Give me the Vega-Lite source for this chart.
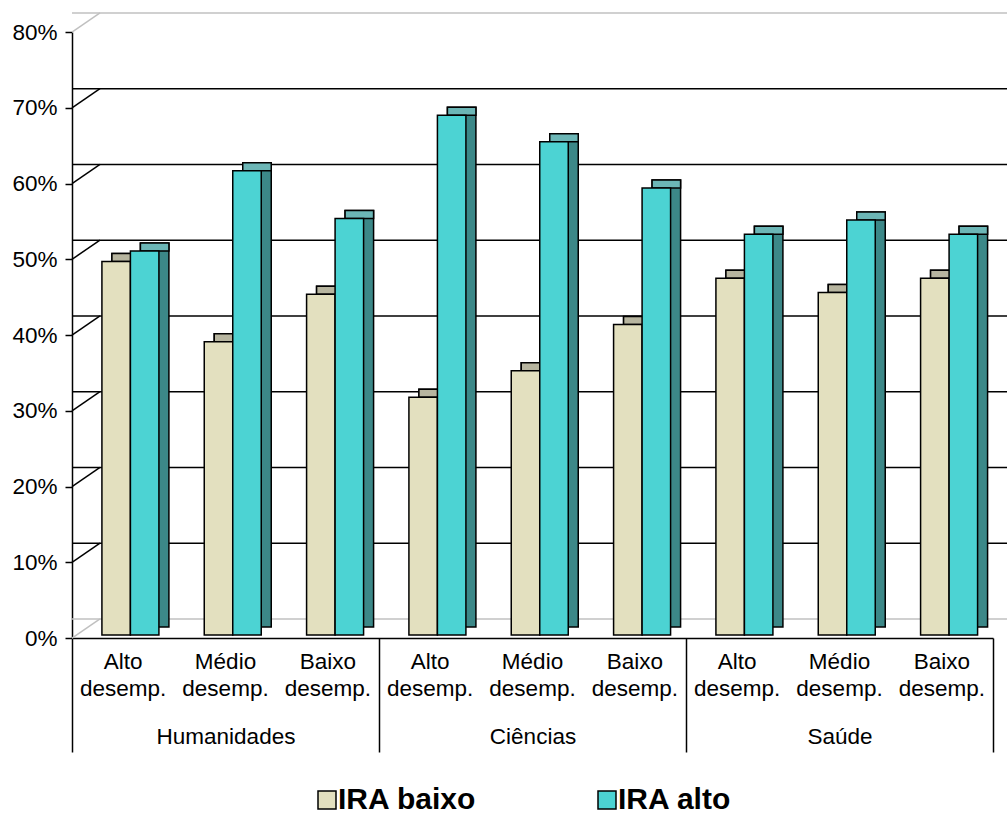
{
  "$schema": "https://vega.github.io/schema/vega-lite/v6.json",
  "autosize": {"type": "none"},
  "width": 921,
  "height": 606,
  "padding": {"left": 72, "top": 32, "right": 14, "bottom": 182},
  "background": "white",
  "datasets": {
    "bars": [
      {"grupo": "Humanidades", "cat": "Humanidades|Alto desemp.", "serie": "IRA baixo", "valor": 0.493},
      {"grupo": "Humanidades", "cat": "Humanidades|Alto desemp.", "serie": "IRA alto", "valor": 0.507},
      {"grupo": "Humanidades", "cat": "Humanidades|Médio desemp.", "serie": "IRA baixo", "valor": 0.387},
      {"grupo": "Humanidades", "cat": "Humanidades|Médio desemp.", "serie": "IRA alto", "valor": 0.613},
      {"grupo": "Humanidades", "cat": "Humanidades|Baixo desemp.", "serie": "IRA baixo", "valor": 0.450},
      {"grupo": "Humanidades", "cat": "Humanidades|Baixo desemp.", "serie": "IRA alto", "valor": 0.550},
      {"grupo": "Ciências", "cat": "Ciências|Alto desemp.", "serie": "IRA baixo", "valor": 0.314},
      {"grupo": "Ciências", "cat": "Ciências|Alto desemp.", "serie": "IRA alto", "valor": 0.686},
      {"grupo": "Ciências", "cat": "Ciências|Médio desemp.", "serie": "IRA baixo", "valor": 0.349},
      {"grupo": "Ciências", "cat": "Ciências|Médio desemp.", "serie": "IRA alto", "valor": 0.651},
      {"grupo": "Ciências", "cat": "Ciências|Baixo desemp.", "serie": "IRA baixo", "valor": 0.410},
      {"grupo": "Ciências", "cat": "Ciências|Baixo desemp.", "serie": "IRA alto", "valor": 0.590},
      {"grupo": "Saúde", "cat": "Saúde|Alto desemp.", "serie": "IRA baixo", "valor": 0.471},
      {"grupo": "Saúde", "cat": "Saúde|Alto desemp.", "serie": "IRA alto", "valor": 0.529},
      {"grupo": "Saúde", "cat": "Saúde|Médio desemp.", "serie": "IRA baixo", "valor": 0.452},
      {"grupo": "Saúde", "cat": "Saúde|Médio desemp.", "serie": "IRA alto", "valor": 0.548},
      {"grupo": "Saúde", "cat": "Saúde|Baixo desemp.", "serie": "IRA baixo", "valor": 0.471},
      {"grupo": "Saúde", "cat": "Saúde|Baixo desemp.", "serie": "IRA alto", "valor": 0.529}
    ],
    "grid": [
      {"v": 0}, {"v": 0.1}, {"v": 0.2}, {"v": 0.3}, {"v": 0.4},
      {"v": 0.5}, {"v": 0.6}, {"v": 0.7}, {"v": 0.8}
    ]
  },
  "config": {
    "font": "Liberation Sans",
    "view": {"stroke": null},
    "axis": {
      "labelColor": "black",
      "labelFont": "Liberation Sans",
      "labelFontSize": 22.5,
      "domainColor": "black",
      "tickColor": "black",
      "domainWidth": 1.5,
      "tickWidth": 1.5,
      "grid": false
    },
    "axisY": {"tickSize": 7, "labelPadding": 8},
    "legend": {
      "orient": "none",
      "legendX": 240,
      "legendY": 753,
      "direction": "horizontal",
      "symbolType": "square",
      "symbolSize": 324,
      "symbolStrokeColor": "black",
      "symbolStrokeWidth": 1.5,
      "labelFont": "Liberation Sans",
      "labelFontSize": 30,
      "labelFontWeight": "bold",
      "labelColor": "black",
      "labelOffset": -4,
      "labelLimit": 0,
      "columnPadding": 115,
      "padding": 0,
      "titlePadding": 0
    }
  },
  "layer": [
    {
      "layer": [
        {
          "data": {"name": "grid"},
          "mark": {"type": "rule", "xOffset": 28, "x2Offset": 40, "yOffset": -19, "strokeWidth": 1.5},
          "encoding": {
            "y": {"field": "v", "type": "quantitative", "scale": {"domain": [0, 0.8], "nice": false},
                  "axis": {"title": null, "format": ".0%", "values": [0, 0.1, 0.2, 0.3, 0.4, 0.5, 0.6, 0.7, 0.8]}},
            "stroke": {"condition": {"test": "datum.v < 0.05 || datum.v > 0.75", "value": "#C0C0C0"}, "value": "black"}
          }
        },
        {
          "data": {"name": "grid"},
          "mark": {"type": "point", "shape": "M -1 0.68 L 1 -0.68", "size": 784, "filled": false, "opacity": 1, "strokeWidth": 1.5, "xOffset": 14, "yOffset": -9.5},
          "encoding": {
            "x": {"datum": "Humanidades", "type": "nominal", "bandPosition": 0,
                  "scale": {"domain": ["Humanidades", "Ciências", "Saúde"], "paddingInner": 0, "paddingOuter": 0},
                  "axis": {"title": null, "orient": "bottom", "tickBand": "extent", "tickSize": 114, "labelPadding": -27, "labelAngle": 0}},
            "y": {"field": "v", "type": "quantitative", "scale": {"domain": [0, 0.8], "nice": false},
                  "axis": {"title": null, "format": ".0%", "values": [0, 0.1, 0.2, 0.3, 0.4, 0.5, 0.6, 0.7, 0.8]}},
            "stroke": {"condition": {"test": "datum.v < 0.05 || datum.v > 0.75", "value": "#C0C0C0"}, "value": "black"}
          }
        },
        {
          "data": {"name": "bars"},
          "mark": {"type": "rule", "opacity": 0},
          "encoding": {
            "x": {"field": "grupo", "type": "nominal",
                  "scale": {"domain": ["Humanidades", "Ciências", "Saúde"], "paddingInner": 0, "paddingOuter": 0},
                  "axis": {"title": null, "orient": "bottom", "tickBand": "extent", "tickSize": 114, "labelPadding": -27, "labelAngle": 0}}
          }
        }
      ]
    },
    {
      "data": {"name": "bars"},
      "encoding": {
        "x": {"field": "cat", "type": "nominal",
              "scale": {"domain": ["Humanidades|Alto desemp.", "Humanidades|Médio desemp.", "Humanidades|Baixo desemp.", "Ciências|Alto desemp.", "Ciências|Médio desemp.", "Ciências|Baixo desemp.", "Saúde|Alto desemp.", "Saúde|Médio desemp.", "Saúde|Baixo desemp."], "paddingInner": 0.7215, "paddingOuter": 0.36075},
              "axis": {"title": null, "orient": "bottom", "ticks": false, "tickSize": 0, "domain": false, "labelAngle": 0, "labelPadding": 12, "labelLineHeight": 27,
                       "labelExpr": "split(slice(datum.label, indexof(datum.label, '|') + 1), ' ')"}},
        "y": {"field": "valor", "type": "quantitative", "scale": {"domain": [0, 0.8], "nice": false},
              "axis": {"title": null, "format": ".0%", "values": [0, 0.1, 0.2, 0.3, 0.4, 0.5, 0.6, 0.7, 0.8]}}
      },
      "layer": [
        {
          "transform": [{"filter": "datum.serie == 'IRA baixo'"}],
          "mark": {"type": "bar", "xOffset": 3, "yOffset": -11, "y2Offset": -11, "fill": "#9C9A84", "stroke": "black", "strokeWidth": 1.5},
          "encoding": {"y2": {"datum": 0}}
        },
        {
          "transform": [{"filter": "datum.serie == 'IRA baixo'"}],
          "mark": {"type": "bar", "xOffset": 3, "yOffset": -11, "y2Offset": -3, "fill": "#B7B59F", "stroke": "black", "strokeWidth": 1.5},
          "encoding": {"y2": {"field": "valor"}}
        },
        {
          "transform": [{"filter": "datum.serie == 'IRA baixo'"}],
          "mark": {"type": "bar", "xOffset": -7, "yOffset": -3, "y2Offset": -3, "stroke": "black", "strokeWidth": 1.5},
          "encoding": {
            "y2": {"datum": 0},
            "fill": {"field": "serie", "type": "nominal", "scale": {"domain": ["IRA baixo", "IRA alto"], "range": ["#E3E0BF", "#4CD3D3"]}, "legend": {"title": null}}
          }
        },
        {
          "transform": [{"filter": "datum.serie == 'IRA alto'"}],
          "mark": {"type": "bar", "xOffset": 31.5, "yOffset": -11, "y2Offset": -11, "fill": "#3C8888", "stroke": "black", "strokeWidth": 1.5},
          "encoding": {"y2": {"datum": 0}}
        },
        {
          "transform": [{"filter": "datum.serie == 'IRA alto'"}],
          "mark": {"type": "bar", "xOffset": 31.5, "yOffset": -11, "y2Offset": -3, "fill": "#6CB6B6", "stroke": "black", "strokeWidth": 1.5},
          "encoding": {"y2": {"field": "valor"}}
        },
        {
          "transform": [{"filter": "datum.serie == 'IRA alto'"}],
          "mark": {"type": "bar", "xOffset": 21.5, "yOffset": -3, "y2Offset": -3, "stroke": "black", "strokeWidth": 1.5},
          "encoding": {
            "y2": {"datum": 0},
            "fill": {"field": "serie", "type": "nominal", "scale": {"domain": ["IRA baixo", "IRA alto"], "range": ["#E3E0BF", "#4CD3D3"]}, "legend": {"title": null}}
          }
        }
      ]
    }
  ],
  "resolve": {"scale": {"x": "independent"}, "axis": {"x": "independent"}}
}
